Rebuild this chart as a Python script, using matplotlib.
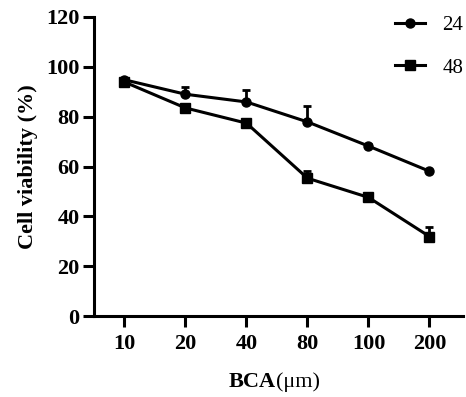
import numpy as np
import matplotlib.pyplot as plt

plt.rcParams['font.family'] = ['Liberation Serif', 'DejaVu Serif']

doses = ['10', '20', '40', '80', '100', '200']
viab_24 = [94.8, 89.0, 85.9, 77.9, 68.2, 58.1]
err_24 = [0.8, 3.1, 4.9, 6.2, 1.0, 0.6]
viab_48 = [93.9, 83.5, 77.4, 55.3, 47.6, 31.9]
err_48 = [1.0, 0.8, 0.6, 2.9, 0.8, 4.0]
series = ['24', '48']


def main():
    fig = plt.figure(figsize=(4.66, 3.97), dpi=100)
    ax = fig.add_axes([94 / 466, 1 - 316 / 397, (463 - 94) / 466, (316 - 17) / 397])

    x = np.arange(len(doses))
    ax.errorbar(x, viab_24, yerr=[np.zeros(len(err_24)), err_24], color='black',
                marker='o', markersize=6.5, linewidth=2.2, elinewidth=2,
                capsize=3.2, capthick=2, label=series[0])
    ax.errorbar(x, viab_48, yerr=[np.zeros(len(err_48)), err_48], color='black',
                marker='s', markersize=6.5, linewidth=2.2, elinewidth=2,
                capsize=3.2, capthick=2, label=series[1])

    ax.set_xlim(-0.5, 5.55)
    ax.set_ylim(0, 120)
    ax.set_yticks(range(0, 121, 20))
    ax.set_xticks(x)
    ax.set_xticklabels(doses)

    for side in ['top', 'right']:
        ax.spines[side].set_visible(False)
    for side in ['left', 'bottom']:
        ax.spines[side].set_linewidth(2.2)
    ax.tick_params(axis='both', length=8, width=2.2, labelsize=16)
    ax.tick_params(axis='x', pad=5)
    ax.tick_params(axis='y', pad=2.5)
    for lab in ax.get_xticklabels() + ax.get_yticklabels():
        lab.set_fontweight('bold')

    ax.set_ylabel('Cell viability (%)', fontsize=16, fontweight='bold', labelpad=6)
    fig.text(276 / 466, 1 - 382 / 397, 'BCA', fontsize=16, fontweight='bold',
             ha='right', va='center')
    fig.text(276 / 466, 1 - 382 / 397, '(μm)', fontsize=16,
             ha='left', va='center')

    handles, labels = ax.get_legend_handles_labels()
    handles = [h[0] for h in handles]
    ax.legend(handles, labels, loc='upper right', bbox_to_anchor=(1.052, 1.068),
              frameon=False, fontsize=15, handlelength=1.45, labelspacing=1.1,
              handletextpad=0.85)

    fig.savefig('out.png', dpi=100)


if __name__ == '__main__':
    main()
